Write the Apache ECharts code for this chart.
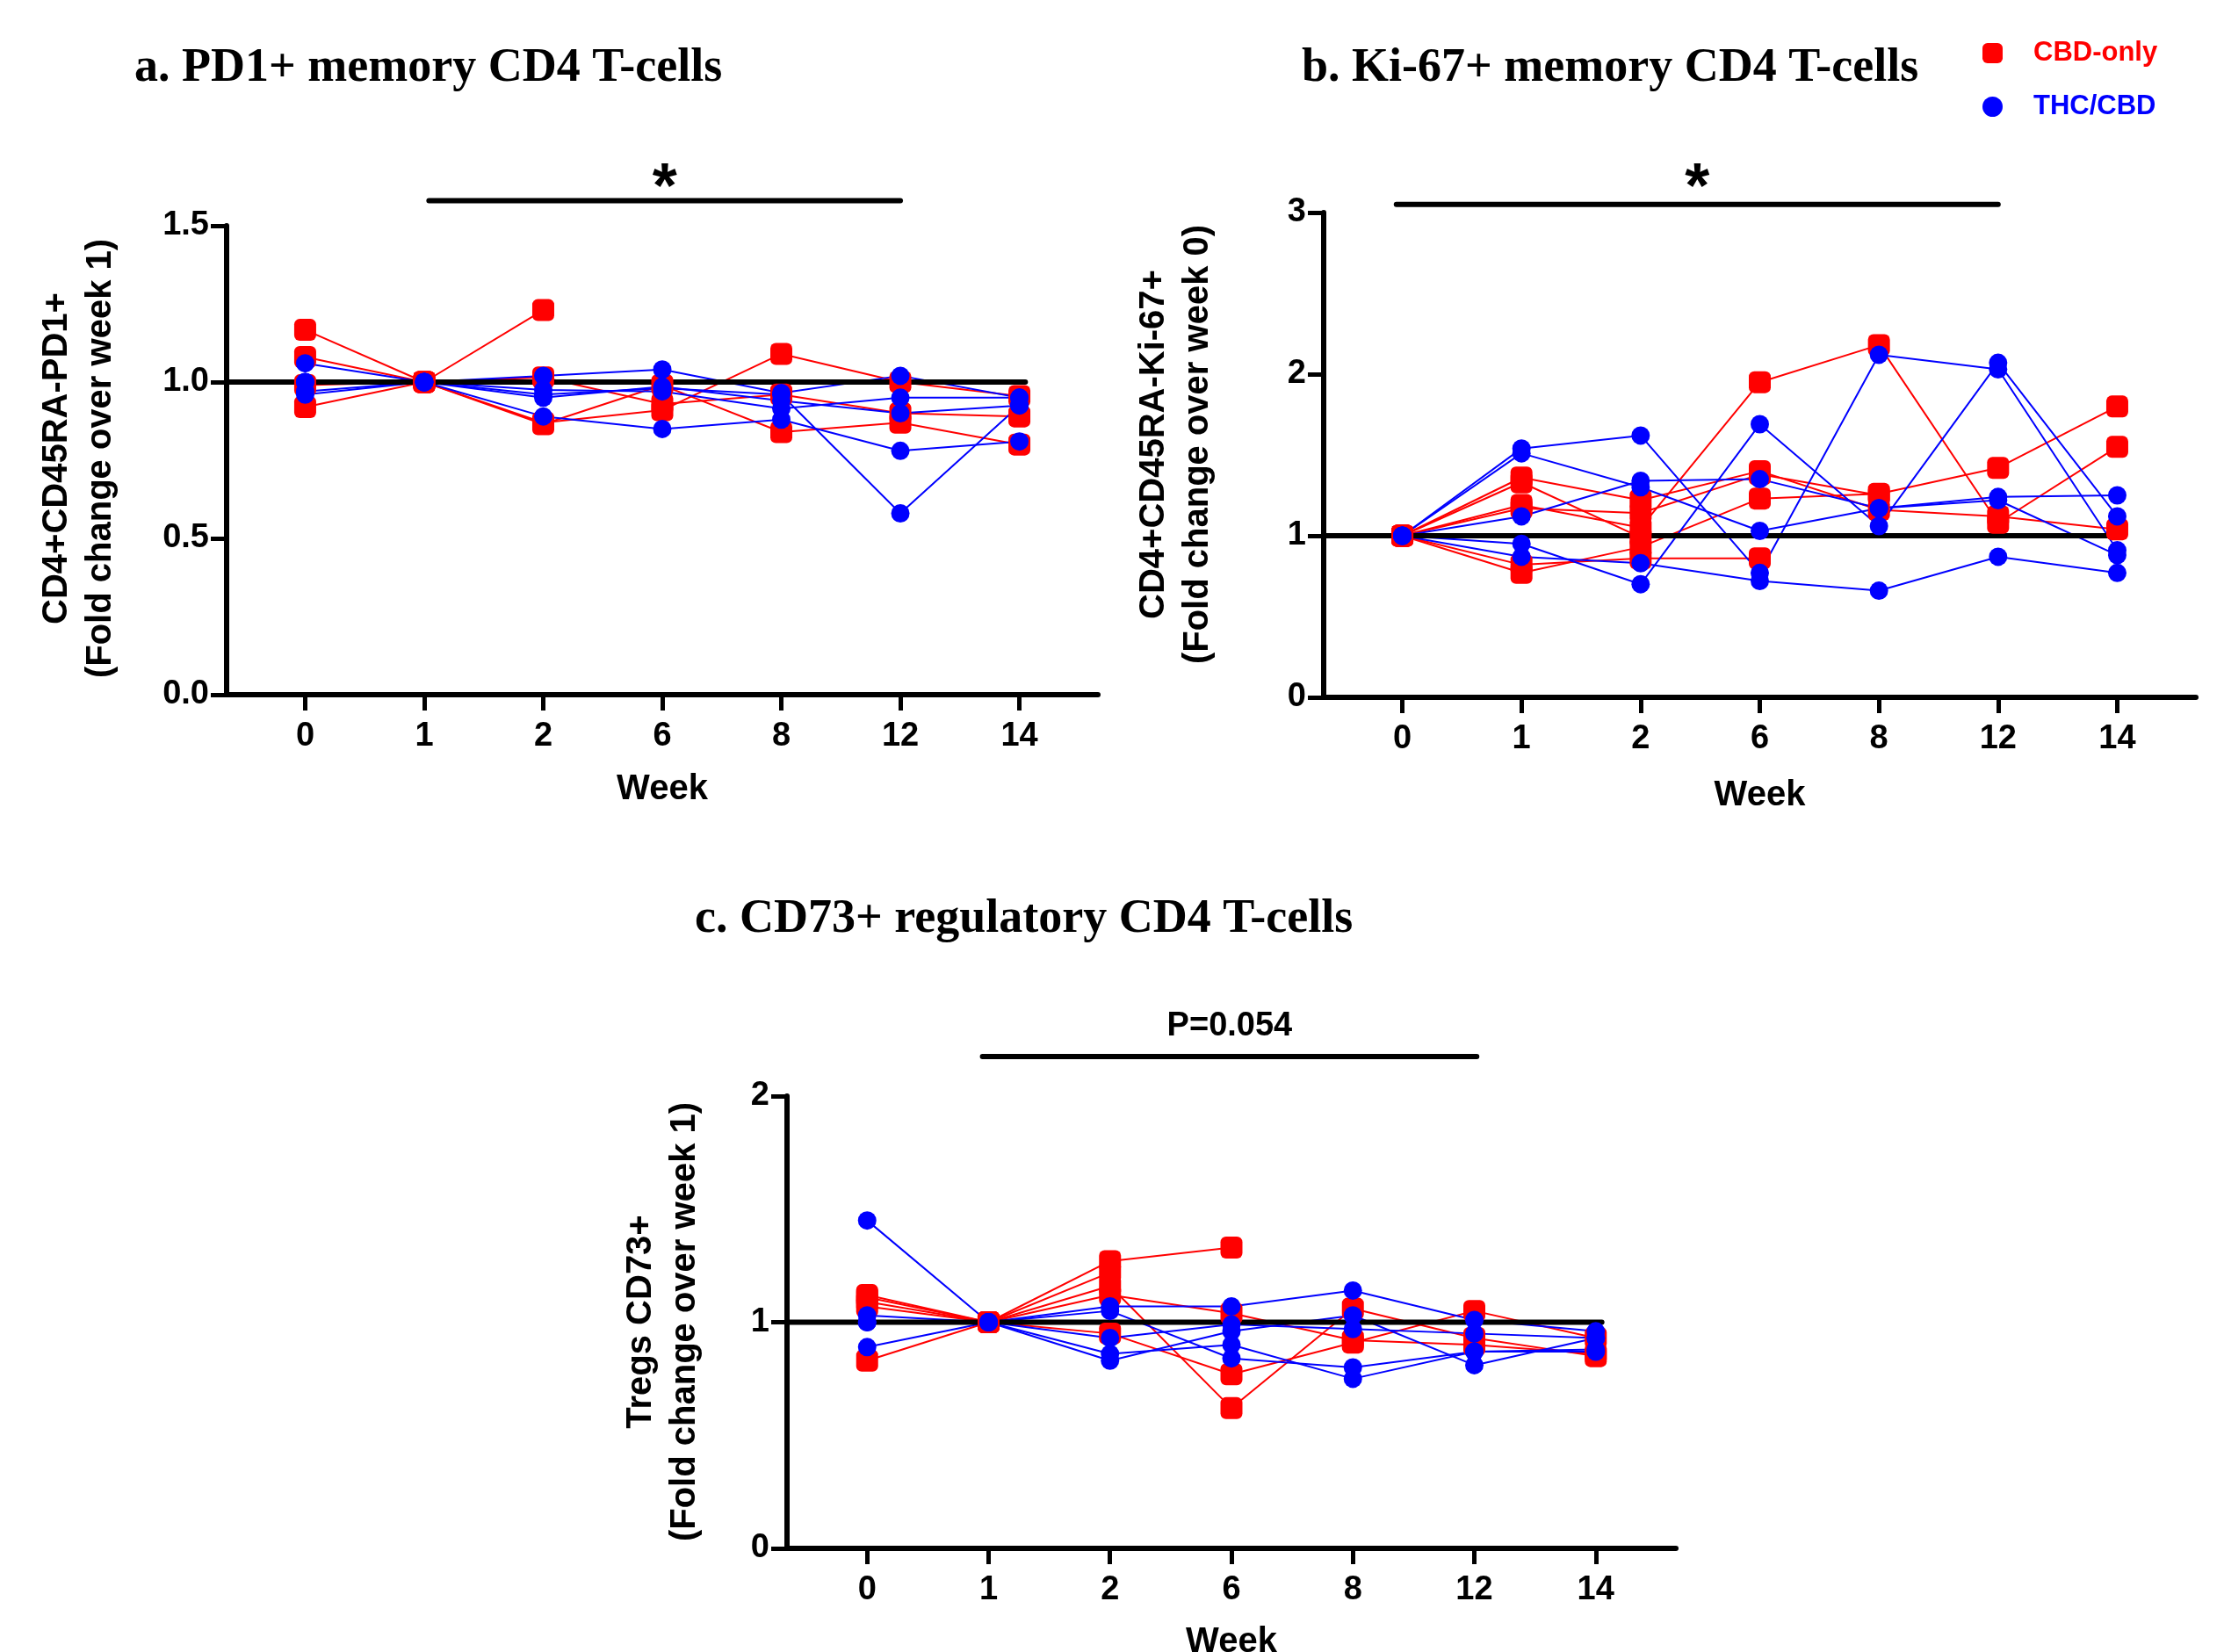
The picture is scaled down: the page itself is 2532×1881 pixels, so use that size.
<!DOCTYPE html>
<html lang="en">
<head>
<meta charset="utf-8">
<title>CD4 T-cells fold change</title>
<script src="https://cdn.jsdelivr.net/npm/echarts@6/dist/echarts.min.js"></script>
<style>
    html, body { margin: 0; padding: 0; background: #fff; }
    #chart { width: 2532px; height: 1881px; }
</style>
</head>
<body>
<div id="chart"></div>
<script>
    var weeks = ['0', '1', '2', '6', '8', '12', '14'];

    // a. PD1+ memory CD4 T-cells, fold change over week 1
    var pd1Cbd = [
        [1.167, 1, 1.23],
        [1.08, 1, 1.015, 0.93, 0.96, 0.90, 0.89],
        [0.92, 1, 0.865, 0.99, 0.84, 0.87, 0.80],
        [0.99, 1, 0.87, 0.91, 1.09, 1.0, 0.955]
    ];
    var pd1Thc = [
        [1.06, 1, 1.02, 1.04, 0.965, 1.02, 0.95],
        [1.0, 1, 0.96, 0.98, 0.96, 0.58, 0.925],
        [0.96, 1, 0.89, 0.85, 0.88, 0.78, 0.81],
        [0.97, 1, 0.975, 0.97, 0.915, 0.95, 0.95],
        [1.0, 1, 0.95, 0.985, 0.94, 0.90, 0.925]
    ];

    // b. Ki-67+ memory CD4 T-cells, fold change over week 0
    var ki67Cbd = [
        [1, 1.19, 1.05, 1.95, 2.18, 1.08, 1.55],
        [1, 1.36, 1.22, 1.40, 1.16, 1.12, 1.04],
        [1, 0.77, 0.93, 1.23, 1.26, 1.42, 1.80],
        [1, 0.82, 0.86, 0.86],
        [1, 1.33, 0.99],
        [1, 1.17, 1.14, 1.38, 1.25]
    ];
    var ki67Thc = [
        [1, 1.54, 1.62, 0.77, 2.12, 2.03, 0.91],
        [1, 0.95, 0.70, 1.69, 1.06, 2.07, 1.12],
        [1, 0.87, 0.83, 0.72, 0.66, 0.87, 0.77],
        [1, 1.12, 1.34, 1.35, 1.17, 1.24, 1.25],
        [1, 1.51, 1.30, 1.03, 1.17, 1.22, 0.88]
    ];

    // c. CD73+ regulatory CD4 T-cells, fold change over week 1
    var cd73Cbd = [
        [1.11, 1, 1.27, 1.33],
        [1.09, 1, 1.16, 0.62, 1.06, 0.93, 0.85],
        [1.07, 1, 1.12, 1.04, 0.92, 0.90, 0.86],
        [0.83, 1, 0.95, 0.77, 0.91, 1.05, 0.93],
        [1.12, 1, 1.22]
    ];
    var cd73Thc = [
        [1.45, 1, 1.07, 1.07, 1.14, 1.01, 0.96],
        [1.0, 1, 1.05, 0.84, 0.80, 0.87, 0.87],
        [0.89, 1, 0.93, 0.99, 0.97, 0.95, 0.93],
        [1.03, 1, 0.86, 0.90, 0.75, 0.87, 0.88],
        [1.0, 1, 0.83, 0.96, 1.03, 0.81, 0.93]
    ];

    var refValue = 1;
    var xMin = -0.66, xMax = 6.66;

    var red = '#ff0000', blue = '#0000ff';
    var sans = "'Liberation Sans', Arial, sans-serif";
    var serif = "'Liberation Serif', 'Times New Roman', serif";

    var panels = [
        {title: 'a. PD1+ memory CD4 T-cells', tLeft: 153, tTop: 51,
         grid: {left: 258, top: 257, width: 992, height: 534}, nameGap: 88,
         yMax: 1.5, yInt: 0.5, digits: 1, cbd: pd1Cbd, thc: pd1Thc,
         yName: 'CD4+CD45RA-PD1+\n(Fold change over week 1)', nameX: 90, nameY: 522,
         sig: {from: 1.04, to: 5, y: 1.58, textY: 1.615, text: '*', size: 72}},
        {title: 'b. Ki-67+ memory CD4 T-cells', tLeft: 1482, tTop: 51,
         grid: {left: 1507, top: 242, width: 993, height: 552}, nameGap: 92,
         yMax: 3, yInt: 1, digits: 0, cbd: ki67Cbd, thc: ki67Thc,
         yName: 'CD4+CD45RA-Ki-67+\n(Fold change over week 0)', nameX: 1339, nameY: 506,
         sig: {from: -0.05, to: 5, y: 3.05, textY: 3.14, text: '*', size: 72}},
        {title: 'c. CD73+ regulatory CD4 T-cells', tLeft: 791, tTop: 1020,
         grid: {left: 896, top: 1248, width: 1012, height: 515}, nameGap: 87,
         yMax: 2, yInt: 1, digits: 0, cbd: cd73Cbd, thc: cd73Thc,
         yName: 'Tregs CD73+\n(Fold change over week 1)', nameX: 755, nameY: 1505,
         sig: {from: 0.95, to: 5.02, y: 2.175, textY: 2.31, text: 'P=0.054', size: 38}}
    ];

    var tickIdx = weeks.map(function (w, i) { return i; });

    function toPoints(row) {
        var pts = [];
        for (var i = 0; i < row.length; i++) {
            if (row[i] != null) pts.push([i, row[i]]);
        }
        return pts;
    }

    var option = {
        animation: false,
        backgroundColor: '#fff',
        title: [],
        grid: [],
        xAxis: [],
        yAxis: [],
        legend: {
            orient: 'vertical',
            left: 2252,
            top: 40,
            itemWidth: 23,
            itemHeight: 23,
            itemGap: 30,
            selectedMode: false,
            textStyle: {fontFamily: sans, fontSize: 31, fontWeight: 'bold', padding: [0, 0, 0, 30]},
            data: [
                {name: 'CBD-only', icon: 'roundRect', textStyle: {color: red}},
                {name: 'THC/CBD', icon: 'circle', textStyle: {color: blue}}
            ]
        },
        series: []
    };

    panels.forEach(function (p, gi) {
        option.title.push({
            text: p.title, left: p.tLeft, top: p.tTop, padding: 0,
            textStyle: {fontFamily: serif, fontSize: 54, fontWeight: 'bold', color: '#000'}
        });
        var g = p.grid;
        option.grid.push({left: g.left, top: g.top, width: g.width, height: g.height,
                          containLabel: false, outerBoundsMode: 'none'});
        option.xAxis.push({
            type: 'value', gridIndex: gi, min: xMin, max: xMax,
            name: 'Week', nameLocation: 'middle', nameGap: p.nameGap,
            nameTextStyle: {fontFamily: sans, fontSize: 40, fontWeight: 'bold', color: '#000'},
            axisLine: {show: true, onZero: false, lineStyle: {color: '#000', width: 6}},
            axisTick: {show: true, customValues: tickIdx, length: 18, lineStyle: {color: '#000', width: 5}},
            axisLabel: {
                customValues: tickIdx, margin: 29,
                fontFamily: sans, fontSize: 38, fontWeight: 'bold', color: '#000',
                formatter: function (v) { return weeks[Math.round(v)]; }
            },
            splitLine: {show: false}
        });
        option.yAxis.push({
            type: 'value', gridIndex: gi, min: 0, max: p.yMax, interval: p.yInt,
            axisLine: {show: true, onZero: false, lineStyle: {color: '#000', width: 6}},
            axisTick: {show: true, length: 18, lineStyle: {color: '#000', width: 5}},
            axisLabel: {
                margin: 20, fontFamily: sans, fontSize: 38, fontWeight: 'bold', color: '#000',
                formatter: function (v) { return v.toFixed(p.digits); }
            },
            splitLine: {show: false}
        });
        p.cbd.forEach(function (row) {
            option.series.push({
                name: 'CBD-only', type: 'line', xAxisIndex: gi, yAxisIndex: gi,
                data: toPoints(row), symbol: 'roundRect', symbolSize: 25,
                itemStyle: {color: red}, lineStyle: {color: red, width: 2},
                emphasis: {disabled: true}
            });
        });
        p.thc.forEach(function (row) {
            option.series.push({
                name: 'THC/CBD', type: 'line', xAxisIndex: gi, yAxisIndex: gi,
                data: toPoints(row), symbol: 'circle', symbolSize: 21,
                itemStyle: {color: blue}, lineStyle: {color: blue, width: 2},
                emphasis: {disabled: true}
            });
        });
        // reference line at fold change = 1
        option.series.push({
            type: 'line', xAxisIndex: gi, yAxisIndex: gi,
            data: [[xMin, refValue], [weeks.length - 1 + 0.05, refValue]],
            symbol: 'none', lineStyle: {color: '#000', width: 6, cap: 'round'},
            emphasis: {disabled: true}, silent: true
        });
    });

    var chart = echarts.init(document.getElementById('chart'));
    chart.setOption(option);

    // significance bars and y-axis names, placed through the axes' own scales
    var graphics = [];
    panels.forEach(function (p, gi) {
        var a = chart.convertToPixel({gridIndex: gi}, [p.sig.from, p.sig.y]);
        var b = chart.convertToPixel({gridIndex: gi}, [p.sig.to, p.sig.y]);
        var t = chart.convertToPixel({gridIndex: gi}, [(p.sig.from + p.sig.to) / 2, p.sig.textY]);
        graphics.push({
            type: 'line', shape: {x1: a[0], y1: a[1], x2: b[0], y2: b[1]},
            style: {stroke: '#000', lineWidth: 6, lineCap: 'round'}
        });
        graphics.push({
            type: 'text', x: t[0], y: t[1],
            style: {text: p.sig.text, fill: '#000', font: 'bold ' + p.sig.size + 'px ' + sans,
                    align: 'center', verticalAlign: 'middle'}
        });
        graphics.push({
            type: 'text', x: p.nameX, y: p.nameY, rotation: Math.PI / 2,
            style: {text: p.yName, fill: '#000', font: 'bold 40px ' + sans, lineHeight: 50,
                    align: 'center', verticalAlign: 'middle'}
        });
    });
    chart.setOption({graphic: graphics});
</script>
</body>
</html>
